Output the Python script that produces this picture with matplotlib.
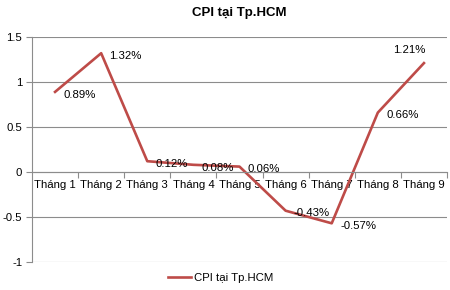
import matplotlib.pyplot as plt
from matplotlib.ticker import FixedLocator, NullFormatter

months = ['Tháng 1', 'Tháng 2', 'Tháng 3', 'Tháng 4', 'Tháng 5',
          'Tháng 6', 'Tháng 7', 'Tháng 8', 'Tháng 9']
cpi = [0.89, 1.32, 0.12, 0.08, 0.06, -0.43, -0.57, 0.66, 1.21]
labels = ['0.89%', '1.32%', '0.12%', '0.08%', '0.06%', '-0.43%', '-0.57%', '0.66%', '1.21%']
yticks = [-1, -0.5, 0, 0.5, 1, 1.5]
ytick_labels = ['-1', '-0.5', '0', '0.5', '1', '1.5']

plt.rcParams['font.family'] = ['Liberation Sans', 'DejaVu Sans']
red = '#BE4B48'
grid = '#8C8C8C'
fs = 8.2

fig = plt.figure(figsize=(4.5, 2.9), dpi=100)
ax = fig.add_axes([32 / 450, 28 / 290, 415 / 450, 225 / 290])

x = list(range(len(months)))
line, = ax.plot(x, cpi, color=red, lw=1.9, label='CPI tại Tp.HCM')

for xi, yi, lab in zip(x, cpi, labels):
    if xi == len(months) - 1:
        # last label sits above-left of the point, as Excel placed it
        ax.annotate(lab, (xi, yi), xytext=(1, 6), textcoords='offset points',
                    ha='right', va='bottom', fontsize=fs)
    else:
        ax.annotate(lab, (xi, yi), xytext=(6, -2), textcoords='offset points',
                    ha='left', va='center', fontsize=fs)

ax.set_xlim(-0.5, len(months) - 0.5)
ax.set_ylim(-1, 1.5)
ax.set_yticks(yticks)
ax.set_yticklabels(ytick_labels)
ax.yaxis.grid(True, color=grid, lw=0.8)
ax.set_axisbelow(True)

# category axis crosses at zero
ax.spines['bottom'].set_position(('data', 0))
ax.spines['bottom'].set_color(grid)
ax.spines['left'].set_color(grid)
ax.spines['top'].set_visible(False)
ax.spines['right'].set_visible(False)

ax.xaxis.set_major_locator(FixedLocator([i + 0.5 for i in x]))
ax.xaxis.set_major_formatter(NullFormatter())
ax.xaxis.set_minor_locator(FixedLocator(x))
ax.set_xticklabels(months, minor=True)
ax.tick_params(axis='x', which='major', length=4, color=grid)
ax.tick_params(axis='x', which='minor', length=0, pad=6, labelsize=fs)
ax.tick_params(axis='y', length=4, color=grid, labelsize=fs, pad=3)

ax.set_title('CPI tại Tp.HCM', fontsize=9.5, fontweight='bold', pad=15)
fig.legend(handles=[line], loc='center', bbox_to_anchor=(0.49, 12 / 290),
           frameon=False, fontsize=fs, handlelength=2.0, handletextpad=0.3)

fig.savefig('out.png', dpi=100)
